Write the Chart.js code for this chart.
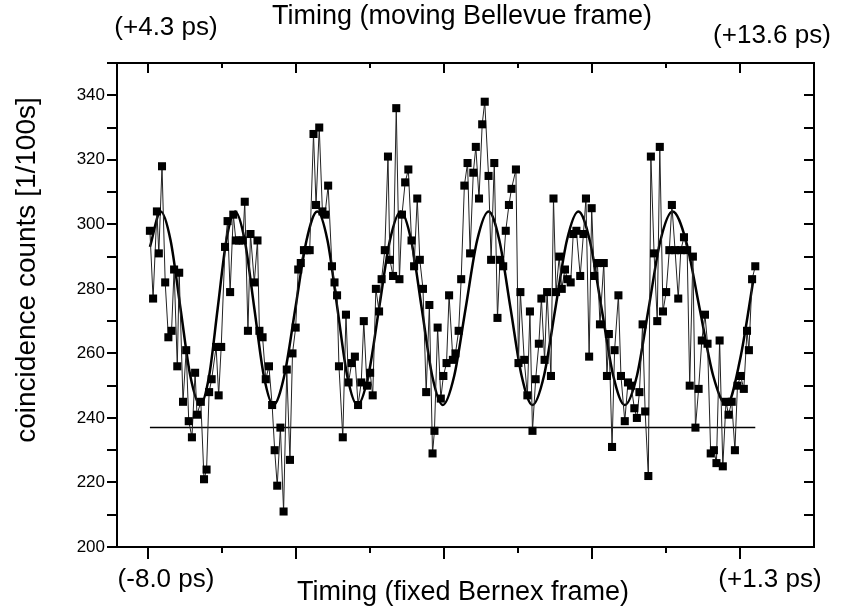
<!DOCTYPE html>
<html>
<head>
<meta charset="utf-8">
<script src="https://cdn.jsdelivr.net/npm/chart.js@4.4.1/dist/chart.umd.min.js"></script>
<style>
  html, body { margin: 0; padding: 0; background: #fff; }
  #wrap { width: 844px; height: 610px; }
</style>
</head>
<body>
<div id="wrap"><canvas id="grafico" width="844" height="610"></canvas></div>
<script>
// measured points: time on the Bernex axis (ps) and coincidences per 100 s
const timePs = [-7.97,-7.92,-7.86,-7.83,-7.78,-7.73,-7.68,-7.63,-7.59,-7.54,
  -7.51,-7.45,-7.40,-7.36,-7.31,-7.26,-7.23,-7.17,-7.12,-7.08,
  -7.04,-7.00,-6.93,-6.89,-6.85,-6.79,-6.75,-6.71,-6.66,-6.62,
  -6.57,-6.51,-6.48,-6.43,-6.39,-6.33,-6.28,-6.25,-6.20,-6.15,
  -6.10,-6.05,-6.01,-5.97,-5.92,-5.87,-5.82,-5.77,-5.73,-5.68,
  -5.64,-5.60,-5.55,-5.50,-5.46,-5.40,-5.36,-5.31,-5.26,-5.22,
  -5.17,-5.11,-5.07,-5.03,-5.00,-4.94,-4.89,-4.85,-4.80,-4.75,
  -4.70,-4.65,-4.61,-4.56,-4.51,-4.47,-4.42,-4.37,-4.33,-4.28,
  -4.23,-4.20,-4.15,-4.10,-4.05,-4.01,-3.96,-3.91,-3.86,-3.82,
  -3.77,-3.73,-3.68,-3.63,-3.58,-3.53,-3.50,-3.45,-3.40,-3.36,
  -3.31,-3.27,-3.21,-3.17,-3.12,-3.08,-3.03,-2.98,-2.94,-2.89,
  -2.85,-2.80,-2.75,-2.71,-2.65,-2.61,-2.56,-2.51,-2.47,-2.42,
  -2.38,-2.33,-2.29,-2.22,-2.18,-2.15,-2.09,-2.04,-2.00,-1.96,
  -1.91,-1.86,-1.82,-1.77,-1.73,-1.67,-1.63,-1.59,-1.54,-1.50,
  -1.45,-1.41,-1.36,-1.32,-1.27,-1.21,-1.16,-1.12,-1.07,-1.03,
  -0.99,-0.94,-0.90,-0.84,-0.79,-0.76,-0.71,-0.67,-0.61,-0.57,
  -0.51,-0.46,-0.41,-0.36,-0.32,-0.28,-0.23,-0.19,-0.14,-0.10,
  -0.05,0.00,0.04,0.09,0.14,0.19,0.23,0.28,0.33,0.37,
  0.42,0.47,0.51,0.56,0.60,0.65,0.70,0.75,0.79,0.84,
  0.89,0.93,0.98,1.03,1.08,1.12,1.17,1.22,1.26,1.31,
  1.36,1.41,1.44,1.49,1.54];
const counts = [298,277,304,291,318,282,265,267,286,256,
  285,245,261,239,234,254,241,245,221,224,
  248,252,262,247,262,293,301,279,303,295,
  295,295,307,267,297,282,295,267,265,252,
  256,244,230,219,237,211,255,227,260,268,
  286,288,292,292,292,328,306,330,304,303,
  312,287,282,278,256,234,272,251,257,259,
  244,251,270,250,254,247,280,273,283,292,
  321,289,284,336,283,303,313,317,295,287,
  308,289,280,248,275,229,236,268,246,253,
  257,278,258,260,267,283,312,319,291,316,
  324,308,331,338,315,289,319,271,289,287,
  298,306,311,317,257,279,258,247,273,236,
  252,263,277,258,279,253,308,279,290,280,
  286,283,282,297,298,284,297,308,259,305,
  284,288,269,288,253,266,231,261,278,253,
  239,251,250,243,240,248,269,242,222,321,
  291,270,324,273,279,292,306,292,277,292,
  296,292,250,290,237,249,264,272,263,229,
  230,226,264,225,245,241,245,230,250,253,
  249,267,261,283,287];

// fitted fringe curve (peaks, troughs and in-between)
const fitTimePs = [-7.97,-7.80,-7.645,-7.49,-7.335,-7.18,-7.04,-6.905,-6.77,-6.63,
  -6.48,-6.33,-6.18,-6.03,-5.86,-5.685,-5.51,-5.34,-5.18,-5.025,
  -4.87,-4.71,-4.54,-4.37,-4.20,-4.03,-3.865,-3.70,-3.535,-3.37,
  -3.19,-3.01,-2.83,-2.65,-2.48,-2.305,-2.13,-1.96,-1.78,-1.60,
  -1.42,-1.24,-1.06,-0.875,-0.69,-0.51,-0.32,-0.135,0.05,0.24,
  0.45,0.665,0.88,1.09,1.30,1.52];
const fitCounts = [293,304,295,274,253,244,253,274,295,304,
  295,274,253,244,253,274,295,304,295,274,
  253,244,253,274,295,304,295,274,253,244,
  253,274,295,304,295,274,253,244,253,274,
  295,304,295,274,253,244,253,274,295,304,
  295,274,253,244,258,284];

// accidental coincidence level
const baselineTimePs = [-7.97, 1.54];
const baselineCounts = [237, 237];

// axis ticks
const xMajorTicks = [-8.0, -5.675, -3.35, -1.025, 1.3];
const xMinorTicks = [-6.8375, -4.5125, -2.1875, 0.1375];
const yLabelTicks = [200, 220, 240, 260, 280, 300, 320, 340];

const fonte = "'Liberation Sans', Arial, Helvetica, sans-serif";

function pares(xs, ys) {
    return xs.map((x, i) => ({ x: x, y: ys[i] }));
}

// frame, tick marks on the four sides and the extra texts
const moldura = {
    id: "moldura",
    afterDraw(chart) {
        const ctx = chart.ctx;
        const a = chart.chartArea;
        const sx = chart.scales.x;
        const sy = chart.scales.y;
        ctx.save();
        ctx.strokeStyle = "#000";
        ctx.lineWidth = 2;
        ctx.strokeRect(a.left, a.top, a.right - a.left, a.bottom - a.top);

        ctx.beginPath();
        sy.ticks.forEach(t => {
            const y = Math.round(sy.getPixelForValue(t.value));
            ctx.moveTo(a.left - 10, y); ctx.lineTo(a.left, y);
            ctx.moveTo(a.right - 10, y); ctx.lineTo(a.right, y);
        });
        xMajorTicks.forEach(v => {
            const x = Math.round(sx.getPixelForValue(v));
            ctx.moveTo(x, a.bottom); ctx.lineTo(x, a.bottom + 12);
            ctx.moveTo(x, a.top); ctx.lineTo(x, a.top + 10);
        });
        xMinorTicks.forEach(v => {
            const x = Math.round(sx.getPixelForValue(v));
            ctx.moveTo(x, a.bottom); ctx.lineTo(x, a.bottom + 6);
            ctx.moveTo(x, a.top); ctx.lineTo(x, a.top + 5);
        });
        ctx.stroke();

        ctx.fillStyle = "#000";
        ctx.textAlign = "center";
        ctx.textBaseline = "middle";
        ctx.font = "27px " + fonte;
        ctx.fillText("Timing (moving Bellevue frame)", 462, 17);
        ctx.fillText("Timing (fixed Bernex frame)", 463, 593);
        ctx.font = "26px " + fonte;
        ctx.fillText("(+4.3 ps)", 166, 28);
        ctx.fillText("(+13.6 ps)", 772, 36);
        ctx.fillText("(-8.0 ps)", 166, 580);
        ctx.fillText("(+1.3 ps)", 770, 580);

        ctx.translate(27, 270);
        ctx.rotate(-Math.PI / 2);
        ctx.font = "28px " + fonte;
        ctx.fillText("coincidence counts [1/100s]", 0, 0);
        ctx.restore();
    }
};

new Chart(document.getElementById("grafico"), {
    type: "scatter",
    data: {
        datasets: [
            {
                label: "medidas",
                data: pares(timePs, counts),
                showLine: true,
                borderColor: "#222",
                borderWidth: 1,
                pointStyle: "rect",
                pointRadius: 5.7,
                pointBackgroundColor: "#000",
                pointBorderWidth: 0,
            },
            {
                label: "ajuste",
                data: pares(fitTimePs, fitCounts),
                showLine: true,
                borderColor: "#000",
                borderWidth: 2.5,
                pointRadius: 0,
                cubicInterpolationMode: "monotone",
            },
            {
                label: "fundo",
                data: pares(baselineTimePs, baselineCounts),
                showLine: true,
                borderColor: "#000",
                borderWidth: 1.5,
                pointRadius: 0,
            },
        ],
    },
    options: {
        responsive: false,
        animation: false,
        devicePixelRatio: 1,
        layout: { padding: { left: 0, top: 63, right: 30, bottom: 0 } },
        plugins: {
            legend: { display: false },
            tooltip: { enabled: false },
        },
        scales: {
            x: {
                type: "linear",
                min: -8.487,
                max: 2.4625,
                grid: { display: false, drawTicks: false },
                border: { display: false },
                ticks: { display: false },
                afterFit: (s) => { s.height = 63; },
            },
            y: {
                type: "linear",
                min: 200,
                max: 350,
                grid: { display: false, drawTicks: false },
                border: { display: false },
                ticks: {
                    stepSize: 10,
                    padding: 12,
                    color: "#000",
                    font: { size: 17, family: fonte },
                    callback: (v) => (yLabelTicks.includes(v) ? String(v) : ""),
                },
                afterFit: (s) => { s.width = 117; },
            },
        },
    },
    plugins: [moldura],
});
</script>
</body>
</html>
